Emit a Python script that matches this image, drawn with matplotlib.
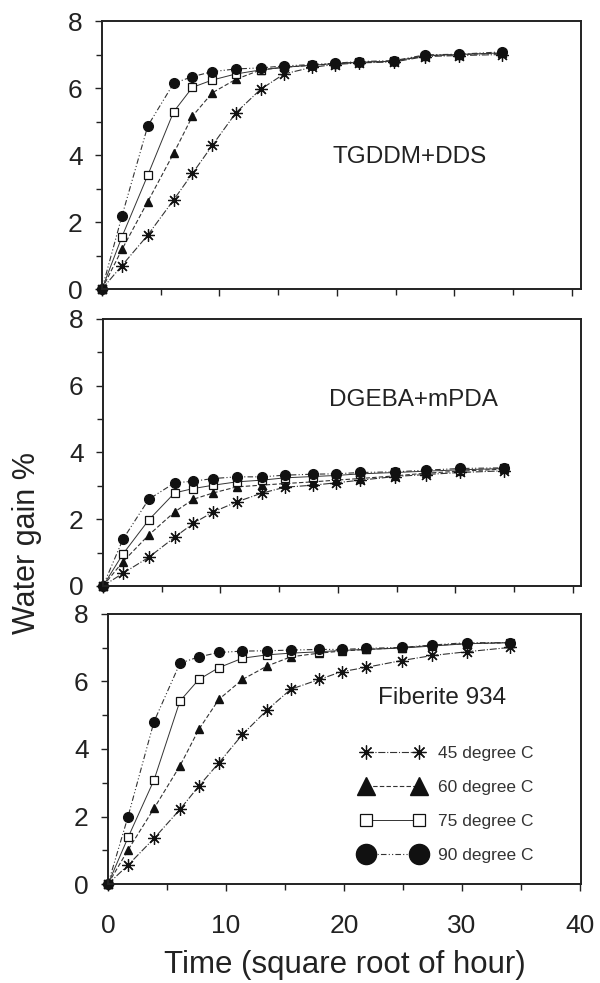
import matplotlib
matplotlib.use("Agg")
import matplotlib.pyplot as plt
from matplotlib.lines import Line2D
from matplotlib.ticker import MultipleLocator

plt.rcParams['font.family'] = ['Liberation Sans', 'DejaVu Sans']

# time axis (square root of hour)
time_sqrt = [0, 1.7, 3.9, 6.1, 7.7, 9.4, 11.4, 13.5, 15.5, 17.9, 19.8, 21.9, 24.9, 27.5, 30.4, 34.1]

panel_names = ["TGDDM+DDS", "DGEBA+mPDA", "Fiberite 934"]
series_labels = ["45 degree C", "60 degree C", "75 degree C", "90 degree C"]

# TGDDM+DDS
tgddm_45 = [0, 0.70, 1.61, 2.66, 3.45, 4.29, 5.26, 5.96, 6.42, 6.62, 6.70, 6.75, 6.78, 6.94, 6.97, 7.00]
tgddm_60 = [0, 1.18, 2.61, 4.05, 5.16, 5.86, 6.26, 6.54, 6.62, 6.68, 6.72, 6.77, 6.80, 6.96, 7.00, 7.04]
tgddm_75 = [0, 1.56, 3.40, 5.29, 6.02, 6.24, 6.42, 6.54, 6.62, 6.68, 6.73, 6.77, 6.80, 6.97, 7.00, 7.05]
tgddm_90 = [0, 2.18, 4.87, 6.14, 6.34, 6.49, 6.57, 6.60, 6.66, 6.70, 6.74, 6.79, 6.82, 6.99, 7.01, 7.08]

# DGEBA+mPDA
dgeba_45 = [0, 0.38, 0.86, 1.46, 1.88, 2.22, 2.52, 2.78, 2.96, 3.02, 3.09, 3.17, 3.28, 3.34, 3.40, 3.45]
dgeba_60 = [0, 0.73, 1.53, 2.22, 2.60, 2.79, 2.97, 3.02, 3.07, 3.12, 3.17, 3.22, 3.30, 3.38, 3.44, 3.50]
dgeba_75 = [0, 0.96, 1.98, 2.79, 2.92, 3.02, 3.12, 3.17, 3.24, 3.28, 3.31, 3.36, 3.40, 3.44, 3.48, 3.52]
dgeba_90 = [0, 1.40, 2.60, 3.09, 3.14, 3.22, 3.27, 3.27, 3.32, 3.35, 3.36, 3.40, 3.42, 3.47, 3.52, 3.54]

# Fiberite 934
fib_45 = [0, 0.56, 1.35, 2.21, 2.90, 3.59, 4.43, 5.16, 5.77, 6.06, 6.29, 6.42, 6.62, 6.77, 6.88, 7.01]
fib_60 = [0, 1.01, 2.24, 3.50, 4.58, 5.47, 6.06, 6.46, 6.73, 6.84, 6.90, 6.95, 7.00, 7.07, 7.12, 7.15]
fib_75 = [0, 1.38, 3.08, 5.42, 6.06, 6.41, 6.69, 6.79, 6.84, 6.88, 6.92, 6.95, 6.99, 7.05, 7.12, 7.15]
fib_90 = [0, 2.00, 4.81, 6.54, 6.73, 6.86, 6.90, 6.91, 6.93, 6.95, 6.95, 6.98, 7.01, 7.08, 7.15, 7.15]

panels = [
    [tgddm_45, tgddm_60, tgddm_75, tgddm_90],
    [dgeba_45, dgeba_60, dgeba_75, dgeba_90],
    [fib_45, fib_60, fib_75, fib_90],
]

lc = '#333333'
styles = [
    dict(marker=(8, 2, 0), markersize=9, markeredgewidth=0.9, color=lc, mfc=lc, mec='#111111', linestyle='-.', linewidth=0.8),
    dict(marker='^', markersize=6, color=lc, mfc='#111111', mec='#111111', linestyle=(0, (4, 2)), linewidth=0.8),
    dict(marker='s', markersize=6, color=lc, mfc='white', mec='#111111', markeredgewidth=0.9, linestyle='-', linewidth=0.7),
    dict(marker='o', markersize=7, color=lc, mfc='#111111', mec='#111111', linestyle=(0, (5, 2, 1, 2, 1, 2)), linewidth=0.8),
]
legend_sizes = [10, 13, 8, 14.5]

fig = plt.figure(figsize=(6.0, 9.83), dpi=100)
positions = [
    (0.170, 0.706, 0.798, 0.2726),
    (0.1717, 0.4039, 0.7967, 0.2716),
    (0.180, 0.1007, 0.7883, 0.2747),
]
xmaxes = [40.77, 40.7, 40.1]
text_pos = [(0.482, 0.493), (0.473, 0.697), (0.571, 0.689)]

axes = []
for i, (pos, data) in enumerate(zip(positions, panels)):
    ax = fig.add_axes(pos)
    for vals, st in zip(data, styles):
        ax.plot(time_sqrt, vals, clip_on=False, **st)
    ax.set_xlim(0, xmaxes[i])
    ax.set_ylim(0, 8)
    ax.yaxis.set_major_locator(MultipleLocator(2))
    ax.yaxis.set_minor_locator(MultipleLocator(1))
    ax.xaxis.set_major_locator(MultipleLocator(10))
    ax.xaxis.set_minor_locator(MultipleLocator(5))
    ax.tick_params(which='both', direction='out', top=False, right=False, colors='#222222', labelsize=19)
    ax.tick_params(which='major', length=5, width=1.0)
    ax.tick_params(which='minor', length=4, width=1.0)
    ax.tick_params(axis='y', which='major', pad=9)
    ax.tick_params(axis='x', which='major', pad=16.5)
    for sp in ax.spines.values():
        sp.set_linewidth(1.4)
        sp.set_color('#222222')
    if i < 2:
        ax.tick_params(axis='x', labelbottom=False)
    ax.text(text_pos[i][0], text_pos[i][1], panel_names[i], transform=ax.transAxes,
            fontsize=17.5, color='#222222', ha='left', va='center')
    axes.append(ax)

axb = axes[2]
axb.set_xlabel("Time (square root of hour)", fontsize=22.5, color='#222222', labelpad=9)
fig.text(0.045, 1 - 543 / 983, "Water gain %", rotation=90, fontsize=22, color='#222222',
         ha='center', va='center')

handles = []
for st, ms, lab in zip(styles, legend_sizes, series_labels):
    s = dict(st)
    s['markersize'] = ms
    handles.append(Line2D([], [], label=lab, **s))
axb.legend(handles=handles, loc='upper left', bbox_to_anchor=(0.516, 0.544), frameon=False,
           numpoints=2, handlelength=3.65, handletextpad=0.8, labelspacing=1.09,
           borderpad=0, fontsize=12.5, labelcolor='#333333')

fig.savefig("out.png", dpi=100)
